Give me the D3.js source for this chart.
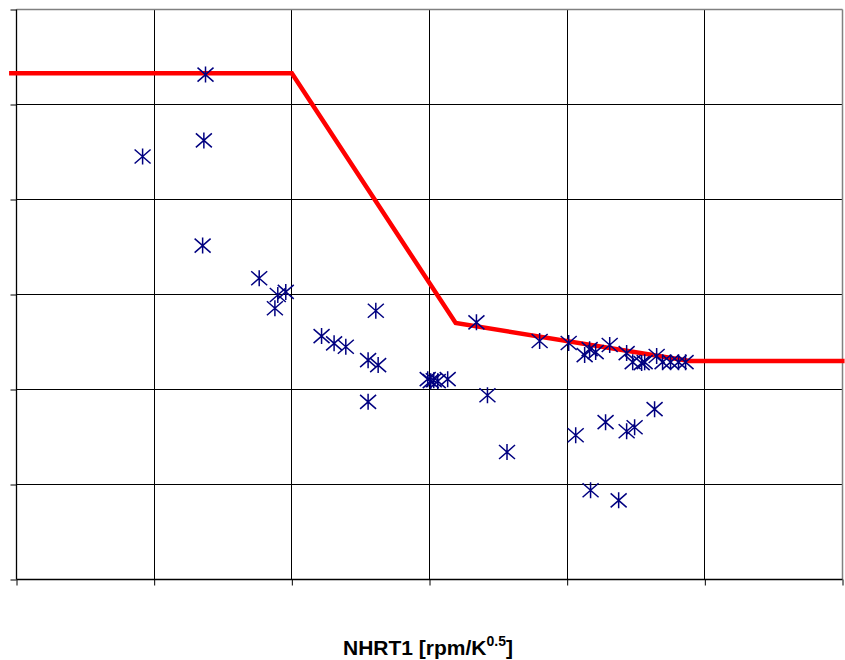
<!DOCTYPE html>
<html>
<head>
<meta charset="utf-8">
<script src="https://cdn.jsdelivr.net/npm/d3@7"></script>
<style>
  html, body { margin: 0; padding: 0; background: #fff; }
  svg { display: block; }
</style>
</head>
<body>
<svg id="chart" width="845" height="660"></svg>
<script>
// ---- data (grid units; the reference shows no tick labels) ----
const xTicks = [0, 1, 2, 3, 4, 5, 6];
const yTicks = [0, 1, 2, 3, 4, 5, 6];
const xTickLabels = ["", "", "", "", "", "", ""];
const yTickLabels = ["", "", "", "", "", "", ""];

const measuredX = [
  1.373, 1.361, 0.916, 1.352, 1.763, 1.898, 1.956, 1.877, 2.610, 2.216,
  2.307, 2.392, 2.554, 2.627, 2.554, 2.987, 3.009, 3.031, 3.060, 3.132,
  3.341, 3.421, 3.563, 3.800, 4.011, 4.127, 4.163, 4.207, 4.309, 4.432,
  4.476, 4.541, 4.563, 4.650, 4.693, 4.751, 4.809, 4.860, 4.062, 4.279,
  4.432, 4.490, 4.635, 4.170, 4.374
];
const measuredY = [
  5.315, 4.622, 4.453, 3.515, 3.171, 2.995, 3.027, 2.855, 2.829, 2.562,
  2.486, 2.450, 2.309, 2.257, 1.870, 2.109, 2.088, 2.098, 2.088, 2.109,
  2.707, 1.940, 1.342, 2.510, 2.489, 2.362, 2.425, 2.394, 2.468, 2.383,
  2.288, 2.278, 2.288, 2.352, 2.288, 2.288, 2.288, 2.288, 1.519, 1.656,
  1.561, 1.603, 1.793, 0.939, 0.833
];

const limitX = [-0.054, 2.0, 3.19, 4.89, 6.015];
const limitY = [5.33, 5.33, 2.70, 2.30, 2.30];

const axisTitle = "NHRT1 [rpm/K";
const axisTitleSup = "0.5";
const axisTitleEnd = "]";

// ---- layout ----
const margin = { left: 16.5, top: 9.5 };
const W = 826, H = 570;

const svg = d3.select("#chart");
const g = svg.append("g").attr("transform", `translate(${margin.left},${margin.top})`);

const x = d3.scaleLinear().domain([0, 6]).range([0, W]);
const y = d3.scaleLinear().domain([0, 6]).range([H, 0]);

// gridlines
g.append("g").selectAll("line.vg").data(xTicks.slice(1, -1)).join("line")
  .attr("x1", d => Math.round(x(d))).attr("x2", d => Math.round(x(d)))
  .attr("y1", 0).attr("y2", H)
  .attr("stroke", "#000").attr("stroke-width", 1);
g.append("g").selectAll("line.hg").data(yTicks.slice(1, -1)).join("line")
  .attr("x1", 0).attr("x2", W)
  .attr("y1", d => Math.round(y(d))).attr("y2", d => Math.round(y(d)))
  .attr("stroke", "#000").attr("stroke-width", 1);

// plot border (top / right grey)
g.append("line").attr("x1", 0).attr("x2", W).attr("y1", 0).attr("y2", 0)
  .attr("stroke", "#808080").attr("stroke-width", 1.5);
g.append("line").attr("x1", W).attr("x2", W).attr("y1", 0).attr("y2", H)
  .attr("stroke", "#808080").attr("stroke-width", 1.5);

// axes
const xAxis = d3.axisBottom(x).tickValues(xTicks).tickSize(6)
  .tickFormat((d, i) => xTickLabels[i]);
const yAxis = d3.axisLeft(y).tickValues(yTicks).tickSize(6)
  .tickFormat((d, i) => yTickLabels[i]);

const gx = g.append("g").attr("transform", `translate(0,${H})`).call(xAxis);
const gy = g.append("g").call(yAxis);
[gx, gy].forEach(a => {
  a.select(".domain").attr("stroke", "#000").attr("stroke-width", 1.3);
  a.selectAll(".tick line").attr("stroke", "#000").attr("stroke-width", 1);
});
gx.select(".domain").attr("d", `M0,0H${W}`);
gy.select(".domain").attr("d", `M0,0V${H}`);

// red limit line
const line = d3.line().x(d => x(d[0])).y(d => y(d[1]));
g.append("path")
  .datum(limitX.map((v, i) => [v, limitY[i]]))
  .attr("d", line)
  .attr("fill", "none")
  .attr("stroke", "#ff0000")
  .attr("stroke-width", 4.5)
  .attr("stroke-linejoin", "miter");

// star markers
const pts = measuredX.map((v, i) => [v, measuredY[i]]);
const s = 8, sy = 7;
const starPath = `M0,${-s}V${s}M${-s},${-sy}L${s},${sy}M${-s},${sy}L${s},${-sy}`;
g.append("g").selectAll("path.star").data(pts).join("path")
  .attr("class", "star")
  .attr("transform", d => `translate(${x(d[0])},${y(d[1])})`)
  .attr("d", starPath)
  .attr("fill", "none")
  .attr("stroke", "#000080")
  .attr("stroke-width", 1.5);

// axis title
const t = svg.append("text")
  .attr("x", 428).attr("y", 655)
  .attr("text-anchor", "middle")
  .attr("font-family", "Liberation Sans, Arial, sans-serif")
  .attr("font-weight", "bold")
  .attr("font-size", 21)
  .attr("fill", "#000");
t.append("tspan").text(axisTitle);
t.append("tspan").attr("dy", -9).attr("font-size", 14).text(axisTitleSup);
t.append("tspan").attr("dy", 9).text(axisTitleEnd);
</script>
</body>
</html>
